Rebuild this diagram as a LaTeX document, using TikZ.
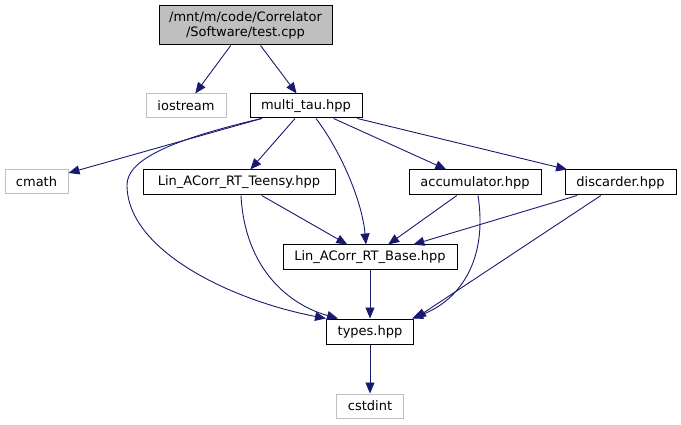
\documentclass[tikz,border=0pt]{standalone}
\usepackage{fontspec}
\setmainfont{DejaVu Sans}
\usetikzlibrary{arrows.meta,calc}
\definecolor{edgeblue}{HTML}{191970}
\definecolor{extgray}{HTML}{BFBFBF}

\begin{document}
\begin{tikzpicture}[x=1pt,y=-1pt,>={Triangle[length=11pt,width=9pt]},
  file/.style={draw=black,line width=1pt,inner sep=0pt,minimum height=25pt,
    font=\fontsize{13}{15}\selectfont,align=center},
  sysfile/.style={file,draw=extgray,minimum height=24pt},
  dep/.style={->,color=edgeblue,line width=0.9pt}]
\useasboundingbox (0,0) rectangle (681,425);
\node[file,fill=extgray,minimum width=173pt,minimum height=39pt] (test) at (245.5,25.5)
  {/mnt/m/code/Correlator\\/Software/test.cpp};
\node[sysfile,minimum width=80pt] (iostream) at (186,106) {iostream};
\node[file,minimum width=112pt,minimum height=24pt] (mt) at (306,106) {multi\_tau.hpp};
\node[sysfile,minimum width=63pt] (cmath) at (36.5,182) {cmath};
\node[file,minimum width=192pt] (teensy) at (239,182.5) {Lin\_ACorr\_RT\_Teensy.hpp};
\node[file,minimum width=132pt] (acc) at (475,182.5) {accumulator.hpp};
\node[file,minimum width=111pt] (disc) at (620.5,182.5) {discarder.hpp};
\node[file,minimum width=174pt] (base) at (370,257.5) {Lin\_ACorr\_RT\_Base.hpp};
\node[file,minimum width=87pt] (types) at (370,331.5) {types.hpp};
\node[sysfile,minimum width=67pt] (cstdint) at (370,406) {cstdint};
% includes of test.cpp
\draw[dep] (test) -- (iostream);
\draw[dep] (test) -- (mt);
% includes of multi_tau.hpp
\draw[dep] (mt) -- (cmath);
\draw[dep] (mt) -- (teensy);
\draw[dep] (mt) -- (acc);
\draw[dep] (mt) -- (disc);
\draw[dep] ($(mt.south west)+(12,0)$) .. controls (170,140) and (127,160) .. (127,185)
  .. controls (127,250) and (230,300) .. (types.north west);
\draw[dep] ($(mt.south)+(10,0)$) .. controls (340,150) and (362,200) .. ($(base.north)+(-4,0)$);
% second level
\draw[dep] (teensy) -- (base);
\draw[dep] ($(teensy.south)+(2,0)$) .. controls (245,270) and (290,305) .. ($(types.north west)+(12,0)$);
\draw[dep] (acc) -- (base);
\draw[dep] ($(acc.south)+(3,0)$) .. controls (488,260) and (460,300) .. ($(types.north east)+(-2,0)$);
\draw[dep] (disc) -- (base);
\draw[dep] (disc) -- ($(types.north east)+(1,0)$);
\draw[dep] (base) -- (types);
\draw[dep] (types) -- (cstdint);
\end{tikzpicture}
\end{document}
